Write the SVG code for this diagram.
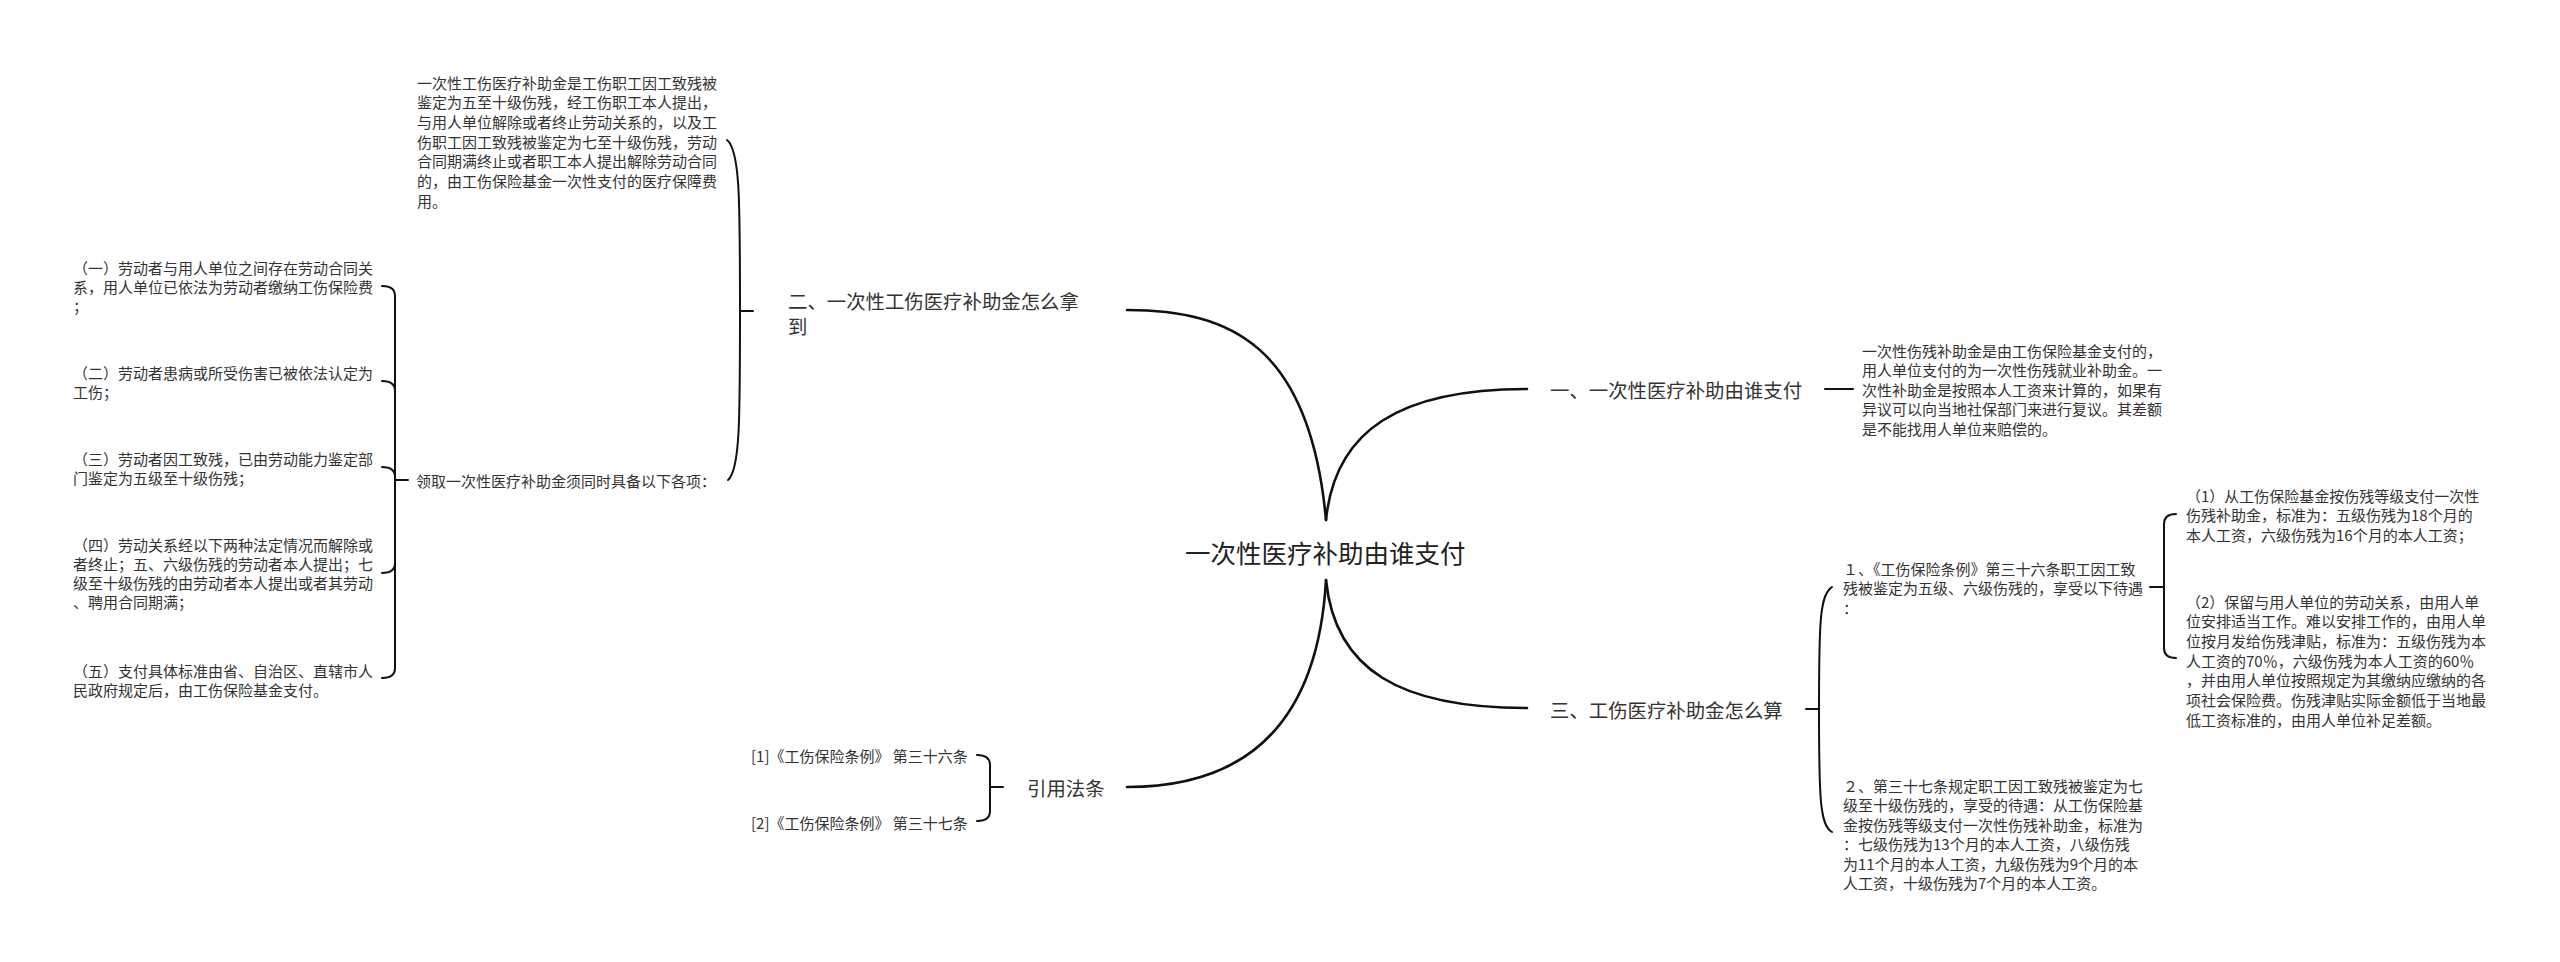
<svg xmlns="http://www.w3.org/2000/svg" width="2560" height="962" viewBox="0 0 2560 962">
<style>
text{font-family:"Noto Sans CJK SC","Noto Sans",sans-serif;fill:#333;dominant-baseline:central}
.t15{font-size:15px}
.br{font-size:19.4px}
.root{font-size:25.5px;fill:#222}
.c{fill:none;stroke:#111;stroke-linecap:round}
.m{stroke-width:2.6}
.b{stroke-width:2}
</style>
<rect width="2560" height="962" fill="#fff"/>
<g id="connectors">
<path class="c m" d="M1326,520 C1310,345 1230,310 1127,310"/>
<path class="c m" d="M1326,520 C1335,430 1400,389 1527,389"/>
<path class="c m" d="M1326,580 C1335,670 1400,708 1527,708"/>
<path class="c m" d="M1326,580 C1318,720 1250,787 1127,787"/>
<path class="c b" d="M753,311 H740 C740,200 740,150 727,140"/>
<path class="c b" d="M740,311 C740,420 740,470 728,480"/>
<path class="c b" d="M408,480 H395 V296 Q395,286 382,286"/>
<path class="c b" d="M395,480 V391 Q395,381 382,381"/>
<path class="c b" d="M395,480 V477 Q395,467 382,467"/>
<path class="c b" d="M395,480 V563 Q395,573 382,573"/>
<path class="c b" d="M395,480 V668 Q395,678 382,678"/>
<path class="c b" d="M1003,787 H990 V765 Q990,755 977,755"/>
<path class="c b" d="M990,787 V811 Q990,821 977,821"/>
<path class="c b" d="M1825,389 H1853"/>
<path class="c b" d="M1806,709 H1819 C1819,620 1820,595 1832,587"/>
<path class="c b" d="M1819,709 C1819,800 1820,825 1832,832"/>
<path class="c b" d="M2150,587 H2164 V524 Q2164,514 2176,514"/>
<path class="c b" d="M2164,587 V648 Q2164,658 2176,658"/>
</g>
<g id="root"><text class="root" x="1185" y="551">一次性医疗补助由谁支付</text></g>
<g id="n2">
<text class="br" x="788" y="300">二、一次性工伤医疗补助金怎么拿</text>
<text class="br" x="788" y="325">到</text>
</g>
<g id="n2a" class="t15">
<text x="417" y="82">一次性工伤医疗补助金是工伤职工因工致残被</text>
<text x="417" y="101.7">鉴定为五至十级伤残，经工伤职工本人提出，</text>
<text x="417" y="121.3">与用人单位解除或者终止劳动关系的，以及工</text>
<text x="417" y="141">伤职工因工致残被鉴定为七至十级伤残，劳动</text>
<text x="417" y="160.7">合同期满终止或者职工本人提出解除劳动合同</text>
<text x="417" y="180.3">的，由工伤保险基金一次性支付的医疗保障费</text>
<text x="417" y="200">用。</text>
</g>
<g id="n2b"><text class="t15" x="416" y="480">领取一次性医疗补助金须同时具备以下各项：</text></g>
<g id="n2b1" class="t15">
<text x="73" y="267">（一）劳动者与用人单位之间存在劳动合同关</text>
<text x="73" y="286">系，用人单位已依法为劳动者缴纳工伤保险费</text>
<text x="73" y="305">；</text>
</g>
<g id="n2b2" class="t15">
<text x="73" y="372">（二）劳动者患病或所受伤害已被依法认定为</text>
<text x="73" y="391">工伤；</text>
</g>
<g id="n2b3" class="t15">
<text x="73" y="458">（三）劳动者因工致残，已由劳动能力鉴定部</text>
<text x="73" y="477">门鉴定为五级至十级伤残；</text>
</g>
<g id="n2b4" class="t15">
<text x="73" y="544">（四）劳动关系经以下两种法定情况而解除或</text>
<text x="73" y="563">者终止；五、六级伤残的劳动者本人提出；七</text>
<text x="73" y="582">级至十级伤残的由劳动者本人提出或者其劳动</text>
<text x="73" y="601">、聘用合同期满；</text>
</g>
<g id="n2b5" class="t15">
<text x="73" y="670">（五）支付具体标准由省、自治区、直辖市人</text>
<text x="73" y="689">民政府规定后，由工伤保险基金支付。</text>
</g>
<g id="n4"><text class="br" x="1027" y="787">引用法条</text></g>
<g id="n4a"><text class="t15" x="751" y="755">[1]《工伤保险条例》 第三十六条</text></g>
<g id="n4b"><text class="t15" x="751" y="822">[2]《工伤保险条例》 第三十七条</text></g>
<g id="n1"><text class="br" x="1550" y="389">一、一次性医疗补助由谁支付</text></g>
<g id="n1a" class="t15">
<text x="1862" y="350">一次性伤残补助金是由工伤保险基金支付的，</text>
<text x="1862" y="369.5">用人单位支付的为一次性伤残就业补助金。一</text>
<text x="1862" y="389">次性补助金是按照本人工资来计算的，如果有</text>
<text x="1862" y="408.5">异议可以向当地社保部门来进行复议。其差额</text>
<text x="1862" y="428">是不能找用人单位来赔偿的。</text>
</g>
<g id="n3"><text class="br" x="1550" y="709">三、工伤医疗补助金怎么算</text></g>
<g id="n3a" class="t15">
<text x="1843" y="568">１、《工伤保险条例》第三十六条职工因工致</text>
<text x="1843" y="587.5">残被鉴定为五级、六级伤残的，享受以下待遇</text>
<text x="1843" y="607">：</text>
</g>
<g id="n3a1" class="t15">
<text x="2186" y="495">（1）从工伤保险基金按伤残等级支付一次性</text>
<text x="2186" y="514.5">伤残补助金，标准为：五级伤残为18个月的</text>
<text x="2186" y="534">本人工资，六级伤残为16个月的本人工资；</text>
</g>
<g id="n3a2" class="t15">
<text x="2186" y="601">（2）保留与用人单位的劳动关系，由用人单</text>
<text x="2186" y="620.7">位安排适当工作。难以安排工作的，由用人单</text>
<text x="2186" y="640.3">位按月发给伤残津贴，标准为：五级伤残为本</text>
<text x="2186" y="660">人工资的70％，六级伤残为本人工资的60％</text>
<text x="2186" y="679.7">，并由用人单位按照规定为其缴纳应缴纳的各</text>
<text x="2186" y="699.3">项社会保险费。伤残津贴实际金额低于当地最</text>
<text x="2186" y="719">低工资标准的，由用人单位补足差额。</text>
</g>
<g id="n3b" class="t15">
<text x="1843" y="785">２、第三十七条规定职工因工致残被鉴定为七</text>
<text x="1843" y="804.5">级至十级伤残的，享受的待遇：从工伤保险基</text>
<text x="1843" y="824">金按伤残等级支付一次性伤残补助金，标准为</text>
<text x="1843" y="843.5">：七级伤残为13个月的本人工资，八级伤残</text>
<text x="1843" y="863">为11个月的本人工资，九级伤残为9个月的本</text>
<text x="1843" y="882.5">人工资，十级伤残为7个月的本人工资。</text>
</g>
</svg>
